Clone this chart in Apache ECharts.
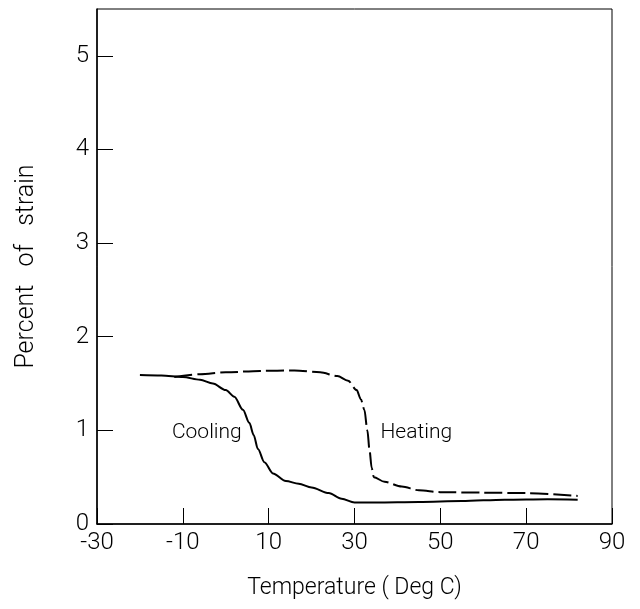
<!DOCTYPE html>
<html>
<head>
<meta charset="utf-8">
<script src="https://cdn.jsdelivr.net/npm/echarts@6/dist/echarts.min.js"></script>
<style>
  html, body { margin: 0; padding: 0; background: #fff; }
  #chart { width: 640px; height: 609px; }
</style>
</head>
<body>
<div id="chart"></div>
<script>
// strain vs temperature
var coolingTemp   = [-20, -15, -10, -6, -3, 0, 2, 4, 5.5, 6.5, 7.5, 9, 11, 14, 17, 20, 24, 27, 30, 35, 45, 55, 65, 75, 82];
var coolingStrain = [1.59, 1.585, 1.57, 1.54, 1.5, 1.43, 1.36, 1.22, 1.08, 0.95, 0.8, 0.66, 0.54, 0.46, 0.43, 0.39, 0.33, 0.27, 0.23, 0.23, 0.235, 0.245, 0.26, 0.265, 0.26];

var heatingTemp   = [-12, -6, 0, 8, 16, 22, 26, 28.5, 30.5, 31.5, 32.3, 33, 33.5, 34, 34.5, 37, 41, 45, 50, 60, 70, 82];
var heatingStrain = [1.57, 1.6, 1.62, 1.635, 1.64, 1.62, 1.58, 1.53, 1.43, 1.33, 1.22, 1.0, 0.79, 0.6, 0.5, 0.45, 0.4, 0.36, 0.34, 0.335, 0.33, 0.3];

var curveNames  = ['Cooling', 'Heating'];
var labelCoords = [[-4.4, 0.97], [44.4, 0.97]];

var xTicks = [-30, -10, 10, 30, 50, 70, 90];
var yTicks = [0, 1, 2, 3, 4, 5];

function pairs(xs, ys) {
  return xs.map(function (x, i) { return [x, ys[i]]; });
}

var font = 'Roboto, "DejaVu Sans", sans-serif';

function curveLabel(i) {
  return {
    symbol: 'rect',
    symbolSize: 1,
    itemStyle: { color: 'rgba(0,0,0,0)' },
    label: {
      show: true, position: 'inside', formatter: curveNames[i],
      fontFamily: font, fontWeight: 300, fontSize: 21, color: '#000'
    },
    data: [{ coord: labelCoords[i] }]
  };
}

var myChart = echarts.init(document.getElementById('chart'));

var option = {
  animation: false,
  grid: {
    left: 97, right: 28, top: 9, bottom: 85,
    show: true, borderColor: '#000', borderWidth: 1
  },
  xAxis: {
    type: 'value',
    min: xTicks[0], max: xTicks[xTicks.length - 1], interval: 20,
    name: 'Temperature ( Deg C)',
    nameLocation: 'middle', nameGap: 53,
    nameTextStyle: { fontFamily: font, fontWeight: 300, fontSize: 23, color: '#000' },
    axisLine: { onZero: false, lineStyle: { color: '#000', width: 1.5 } },
    axisTick: { inside: true, length: 16, lineStyle: { color: '#000' } },
    axisLabel: { fontFamily: font, fontWeight: 300, fontSize: 24, color: '#000', margin: 7 },
    splitLine: { show: false }
  },
  yAxis: {
    type: 'value',
    min: yTicks[0], max: 5.5, interval: 1,
    name: 'Percent   of   strain',
    nameLocation: 'middle', nameGap: 58,
    nameTextStyle: { fontFamily: font, fontWeight: 300, fontSize: 25, color: '#000' },
    axisLine: { onZero: false, lineStyle: { color: '#000', width: 1.5 } },
    axisTick: { inside: true, length: 16, lineStyle: { color: '#000' } },
    axisLabel: {
      fontFamily: font, fontWeight: 300, fontSize: 24, color: '#000', margin: 8,
      showMaxLabel: false,
      formatter: function (v) { return yTicks.indexOf(v) >= 0 ? String(v) : ''; }
    },
    splitLine: { show: false }
  },
  series: [
    {
      name: curveNames[0],
      type: 'line',
      data: pairs(coolingTemp, coolingStrain),
      smooth: 0.3,
      smoothMonotone: 'x',
      symbol: 'none',
      lineStyle: { color: '#000', width: 2 },
      markPoint: curveLabel(0)
    },
    {
      name: curveNames[1],
      type: 'line',
      data: pairs(heatingTemp, heatingStrain),
      smooth: 0.3,
      smoothMonotone: 'x',
      symbol: 'none',
      lineStyle: { color: '#000', width: 2, type: [18, 5] },
      markPoint: curveLabel(1)
    }
  ]
};

myChart.setOption(option);
</script>
</body>
</html>
